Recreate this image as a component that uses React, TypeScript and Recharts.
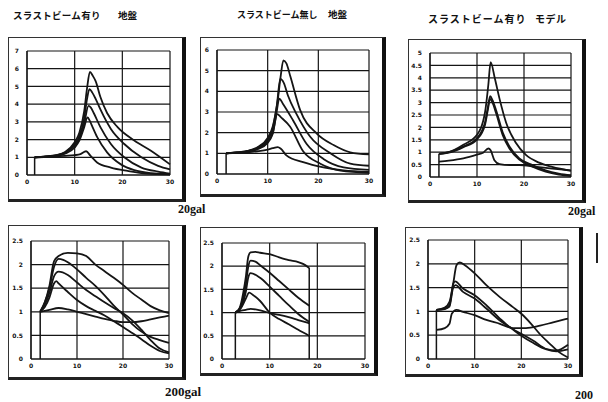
import { LineChart, Line, XAxis, YAxis, CartesianGrid } from 'recharts'

// tick values
const xTicks = [0, 10, 20, 30]
const yTicks7 = [0, 1, 2, 3, 4, 5, 6, 7]
const yTicks6 = [0, 1, 2, 3, 4, 5, 6]
const yTicks5 = [0, 0.5, 1, 1.5, 2, 2.5, 3, 3.5, 4, 4.5, 5]
const yTicks25 = [0, 0.5, 1, 1.5, 2, 2.5]

// panel 1: スラストビーム有り 地盤 (20gal)
const p1A = [[1.6, 1.0], [4, 1.05], [6, 1.12], [8, 1.3], [10, 1.85], [11, 2.4], [12, 3.6], [12.6, 4.9], [13.2, 5.82], [13.8, 5.6], [14.4, 5.3], [15.4, 4.4], [16.8, 3.5], [19, 2.7], [22.5, 1.95], [26, 1.37], [30, 0.6]]
const p1B = [[1.6, 1.0], [4, 1.05], [6, 1.1], [8, 1.27], [10, 1.75], [11, 2.2], [12, 3.2], [12.6, 4.3], [13.1, 4.85], [13.7, 4.65], [14.4, 4.3], [15.4, 3.7], [17.6, 2.6], [20.4, 1.75], [24, 1.0], [27.5, 0.52], [30, 0.32]]
const p1C = [[1.6, 1.0], [4, 1.04], [6, 1.09], [8, 1.24], [10, 1.65], [11, 2.05], [12, 2.9], [12.9, 3.9], [13.4, 3.8], [14, 3.5], [15.4, 2.7], [17.6, 1.75], [20.4, 1.0], [24, 0.42], [27.5, 0.19], [30, 0.08]]
const p1D = [[1.6, 1.0], [4, 1.03], [6, 1.08], [8, 1.2], [10, 1.55], [11, 1.95], [12, 2.7], [12.7, 3.25], [13.1, 3.1], [13.6, 2.8], [14.7, 2.15], [16.8, 1.28], [19.7, 0.6], [22.5, 0.27], [26, 0.1], [30, 0.04]]
const p1E = [[1.6, 1.0], [4, 1.02], [6, 1.05], [8, 1.08], [10, 1.12], [11.2, 1.18], [12.4, 1.34], [13.3, 1.09], [14.7, 0.71], [17.6, 0.42], [21.1, 0.23], [25, 0.08], [30, 0.04]]
const p1Edge = [[1.6, 0], [1.6, 1.0]]

// panel 2: スラストビーム無し 地盤 (20gal)
const p2A = [[1.8, 1.0], [4, 1.05], [6, 1.12], [8, 1.3], [10, 1.75], [11, 2.3], [12, 3.6], [12.6, 4.8], [13.1, 5.5], [13.7, 5.35], [14.5, 4.7], [16.4, 3.1], [19.7, 1.95], [23, 1.4], [26.3, 1.05], [30, 0.95]]
const p2B = [[1.8, 1.0], [4, 1.05], [6, 1.1], [8, 1.27], [10, 1.65], [11, 2.2], [11.8, 3.3], [12.5, 4.6], [13.2, 4.4], [14, 3.8], [15.7, 2.9], [18.4, 1.8], [22.4, 1.0], [26.3, 0.5], [30, 0.4]]
const p2C = [[1.8, 1.0], [4, 1.04], [6, 1.09], [8, 1.24], [10, 1.58], [11, 2.0], [11.7, 2.9], [12.3, 3.65], [13, 3.4], [15, 2.6], [17.7, 1.45], [21, 0.73], [25, 0.32], [30, 0.2]]
const p2D = [[1.8, 1.0], [4, 1.03], [6, 1.08], [8, 1.2], [10, 1.5], [11, 1.95], [11.9, 2.9], [12.6, 2.75], [14.4, 2.3], [17, 1.1], [20.4, 0.5], [24.4, 0.16], [30, 0.05]]
const p2E = [[1.8, 1.0], [4, 1.02], [6, 1.05], [8, 1.1], [10, 1.18], [11, 1.25], [12, 1.3], [12.6, 1.22], [13.7, 0.9], [17, 0.57], [21, 0.32], [25, 0.18], [30, 0.1]]
const p2Edge = [[1.8, 0], [1.8, 1.0]]

// panel 3: スラストビーム有り モデル (20gal)
const p3A = [[1.9, 0.93], [4, 1.0], [7.1, 1.3], [10, 1.7], [11.7, 2.6], [12.4, 3.7], [12.9, 4.63], [13.8, 3.97], [14.8, 3.15], [16.2, 2.19], [18.3, 1.37], [20.4, 0.89], [23.2, 0.58], [26, 0.41], [30, 0.25]]
const p3B = [[1.9, 0.93], [4, 1.0], [7.1, 1.23], [10, 1.57], [11.7, 2.2], [12.3, 2.8], [12.8, 3.26], [13.3, 3.1], [14.1, 2.67], [15.5, 1.78], [16.9, 1.23], [19, 0.75], [21.8, 0.48], [24.6, 0.27], [27.4, 0.14], [30, 0.07]]
const p3C = [[1.9, 0.93], [4, 0.98], [7.1, 1.2], [10, 1.52], [11.7, 2.1], [12.3, 2.7], [12.8, 3.15], [13.3, 3.0], [14.1, 2.55], [15.5, 1.68], [16.9, 1.15], [19, 0.7], [21.8, 0.42], [24.6, 0.22], [27.4, 0.1], [30, 0.04]]
const p3D = [[1.9, 0.62], [4, 0.66], [7.1, 0.75], [10, 0.9], [11.3, 0.98], [12.4, 1.15], [12.9, 1.08], [13.7, 0.68], [14.8, 0.52], [16.9, 0.48], [19, 0.48], [22.5, 0.41], [26, 0.34], [30, 0.27]]
const p3Edge = [[1.9, 0], [1.9, 0.93]]

// panel 4: スラストビーム有り 地盤 (200gal)
const p4A = [[2, 1.0], [3, 1.2], [4, 1.55], [5, 2.07], [6, 2.18], [8, 2.25], [10, 2.24], [12, 2.18], [14, 2.0], [16, 1.86], [18, 1.72], [20, 1.57], [22, 1.4], [24, 1.26], [26, 1.12], [28, 1.03], [30, 0.97]]
const p4B = [[2, 1.0], [3, 1.2], [4, 1.5], [5, 1.95], [6, 2.12], [7, 2.1], [8, 2.05], [10, 1.9], [12, 1.72], [14, 1.55], [16, 1.35], [18, 1.13], [20, 0.94], [22, 0.74], [24, 0.58], [26, 0.47], [28, 0.4], [30, 0.34]]
const p4C = [[2, 1.0], [3, 1.15], [4, 1.4], [5, 1.75], [6, 1.85], [8, 1.78], [10, 1.62], [12, 1.46], [14, 1.33], [16, 1.2], [18, 1.08], [20, 0.97], [22, 0.82], [24, 0.62], [26, 0.4], [28, 0.22], [30, 0.14]]
const p4D = [[2, 1.0], [3, 1.1], [4, 1.3], [5, 1.6], [5.5, 1.65], [6, 1.6], [8, 1.42], [10, 1.25], [12, 1.12], [14, 1.02], [16, 0.92], [18, 0.8], [20, 0.68], [22, 0.55], [24, 0.42], [26, 0.28], [28, 0.17], [30, 0.12]]
const p4E = [[2, 1.0], [4, 1.04], [6, 1.08], [8, 1.05], [10, 1.0], [12, 0.95], [14, 0.9], [16, 0.85], [18, 0.81], [20, 0.78], [22, 0.78], [24, 0.8], [26, 0.84], [28, 0.88], [30, 0.92]]
const p4Edge = [[2, 0], [2, 1.0]]

// panel 5: スラストビーム無し 地盤 (200gal)
const p5A = [[2.8, 1.0], [3.5, 1.05], [4, 1.2], [4.5, 1.45], [5, 1.77], [5.5, 2.2], [6, 2.3], [7, 2.31], [8, 2.29], [10, 2.26], [12, 2.19], [14, 2.13], [16, 2.09], [17, 2.05], [18.3, 1.96]]
const p5B = [[2.8, 1.0], [4, 1.15], [5, 1.6], [5.5, 1.98], [6, 2.12], [7, 2.1], [8, 2.02], [10, 1.86], [12, 1.68], [14, 1.5], [16, 1.32], [18.3, 1.15]]
const p5C = [[2.8, 1.0], [4, 1.12], [5, 1.45], [5.5, 1.75], [6, 1.85], [8, 1.75], [10, 1.56], [12, 1.36], [14, 1.16], [16, 0.97], [18.3, 0.8]]
const p5D = [[2.8, 1.0], [4, 1.1], [5, 1.3], [5.7, 1.43], [6.5, 1.38], [8, 1.25], [10, 1.0], [12, 0.86], [14, 0.75], [16, 0.63], [18.3, 0.5]]
const p5E = [[2.8, 1.0], [4, 1.04], [5, 1.06], [6, 1.08], [8, 1.05], [10, 0.99], [12, 0.95], [14, 0.9], [16, 0.84], [18.3, 0.77]]
const p5Start = [[2.8, 0], [2.8, 1.0]]
const p5End = [[18.3, 0], [18.3, 1.96]]

// panel 6: スラストビーム有り モデル (200gal)
const p6A = [[1.8, 1.03], [3.6, 1.08], [4.6, 1.2], [5.4, 1.58], [6.1, 1.97], [6.8, 2.03], [7.9, 1.97], [10, 1.8], [12.5, 1.55], [15.4, 1.3], [18.2, 1.09], [20, 0.95], [22, 0.75], [24, 0.52], [26, 0.33], [28, 0.15], [30, 0.03]]
const p6B = [[1.8, 1.03], [3.6, 1.06], [4.6, 1.13], [5.4, 1.58], [5.8, 1.63], [7.5, 1.48], [10, 1.34], [12.5, 1.13], [15.4, 0.85], [17.5, 0.67], [20, 0.53], [22.5, 0.39], [25.4, 0.21], [27.5, 0.18], [30, 0.3]]
const p6C = [[1.8, 1.03], [3.6, 1.05], [4.6, 1.1], [5.4, 1.5], [5.9, 1.55], [7.5, 1.41], [10, 1.27], [12.5, 1.06], [15.4, 0.81], [17.5, 0.67], [20, 0.49], [22.5, 0.34], [25.4, 0.2], [27.5, 0.16], [30, 0.2]]
const p6D = [[1.8, 0.61], [3.6, 0.65], [4.6, 0.74], [5.1, 0.95], [6.1, 1.03], [7.5, 0.99], [10, 0.92], [12.5, 0.82], [15.4, 0.74], [18.2, 0.65], [21, 0.65], [24, 0.7], [26.8, 0.77], [30, 0.85]]
const p6Edge = [[1.8, 0], [1.8, 1.03]]

const toPts = (a: number[][]) => a.map(([x, y]) => ({ x, y }))

const INK = '#151515'
const tickStyle = { fontSize: 6, fontWeight: 700, fill: '#111', fontFamily: 'DejaVu Sans' }

interface PanelProps {
    frame: number[]
    plot: number[]
    yMax: number
    yTicks: number[]
    curves: number[][][]
    edges: number[][][]
}

function Panel({ frame, plot, yMax, yTicks, curves, edges }: PanelProps) {
    const [fx, fy, fw, fh] = frame
    const [px, py, pw, ph] = plot
    const YW = 14
    const XH = 12
    const margin = {
        top: py - fy,
        left: px - fx - YW,
        right: fx + fw - px - pw,
        bottom: fy + fh - py - ph - XH,
    }
    return (
        <>
            <div
                style={{
                    position: 'absolute', left: fx, top: fy, width: fw, height: fh, boxSizing: 'border-box',
                    borderLeft: '1.5px solid #333', borderTop: '1.5px solid #333',
                    borderRight: '4px solid #111', borderBottom: '3px solid #222',
                }}
            />
            <div style={{ position: 'absolute', left: fx, top: fy }}>
                <LineChart width={fw} height={fh} margin={margin}>
                    <CartesianGrid stroke={INK} strokeWidth={1.2} />
                    <XAxis type="number" dataKey="x" domain={[0, 30]} ticks={xTicks} interval={0} height={XH}
                        axisLine={{ stroke: INK, strokeWidth: 1.2 }} tickLine={false} tickSize={4} tickMargin={1} tick={tickStyle} />
                    <YAxis type="number" domain={[0, yMax]} ticks={yTicks} interval={0} width={YW}
                        axisLine={{ stroke: INK, strokeWidth: 1.2 }} tickLine={false} tick={tickStyle} />
                    {curves.map((c, i) => (
                        <Line key={`c${i}`} data={toPts(c)} dataKey="y" type="monotone" stroke={INK} strokeWidth={1.8}
                            dot={false} isAnimationActive={false} />
                    ))}
                    {edges.map((e, i) => (
                        <Line key={`e${i}`} data={toPts(e)} dataKey="y" type="linear" stroke={INK} strokeWidth={1.5}
                            dot={false} isAnimationActive={false} />
                    ))}
                </LineChart>
            </div>
        </>
    )
}

const jp = { position: 'absolute' as const, fontFamily: '"Noto Sans CJK JP"', fontWeight: 700, lineHeight: 1, color: '#111', whiteSpace: 'nowrap' as const }
const gal = { position: 'absolute' as const, fontFamily: '"Liberation Serif"', fontWeight: 700, lineHeight: 1, color: '#111' }

export default function App() {
    return (
        <div style={{ position: 'absolute', left: 0, top: 0, width: 608, height: 402, background: '#fff', overflow: 'hidden' }}>
            <div style={{ ...jp, left: 13, top: 11, fontSize: 9.5, letterSpacing: 0.3 }}>スラストビーム有り</div>
            <div style={{ ...jp, left: 118, top: 11, fontSize: 9.5 }}>地盤</div>
            <div style={{ ...jp, left: 237, top: 10, fontSize: 9 }}>スラストビーム無し</div>
            <div style={{ ...jp, left: 328, top: 10, fontSize: 9.5 }}>地盤</div>
            <div style={{ ...jp, left: 428, top: 14, fontSize: 10, letterSpacing: 1 }}>スラストビーム有り</div>
            <div style={{ ...jp, left: 535, top: 14, fontSize: 10, letterSpacing: 0.5 }}>モデル</div>

            <Panel frame={[8, 37, 178, 165]} plot={[27, 51, 143, 124]} yMax={7} yTicks={yTicks7}
                curves={[p1A, p1B, p1C, p1D, p1E]} edges={[p1Edge]} />
            <Panel frame={[200, 37, 186, 160]} plot={[217, 50, 152, 124]} yMax={6} yTicks={yTicks6}
                curves={[p2A, p2B, p2C, p2D, p2E]} edges={[p2Edge]} />
            <Panel frame={[408, 39, 178, 164]} plot={[430, 53, 141, 124]} yMax={5} yTicks={yTicks5}
                curves={[p3A, p3B, p3C, p3D]} edges={[p3Edge]} />
            <Panel frame={[8, 225, 178, 155]} plot={[31, 241, 138, 118]} yMax={2.5} yTicks={yTicks25}
                curves={[p4A, p4B, p4C, p4D, p4E]} edges={[p4Edge]} />
            <Panel frame={[200, 227, 178, 149]} plot={[222, 243, 143, 116]} yMax={2.5} yTicks={yTicks25}
                curves={[p5A, p5B, p5C, p5D, p5E]} edges={[p5Start, p5End]} />
            <Panel frame={[405, 227, 178, 150]} plot={[428, 240, 140, 119]} yMax={2.5} yTicks={yTicks25}
                curves={[p6A, p6B, p6C, p6D]} edges={[p6Edge]} />

            <div style={{ ...gal, left: 178, top: 203, fontSize: 12 }}>20gal</div>
            <div style={{ ...gal, left: 568, top: 205, fontSize: 12 }}>20gal</div>
            <div style={{ ...gal, left: 165, top: 385, fontSize: 13 }}>200gal</div>
            <div style={{ ...gal, left: 575, top: 389, fontSize: 12 }}>200</div>
            <div style={{ position: 'absolute', left: 596, top: 233, width: 2, height: 30, background: '#222' }} />
        </div>
    )
}
